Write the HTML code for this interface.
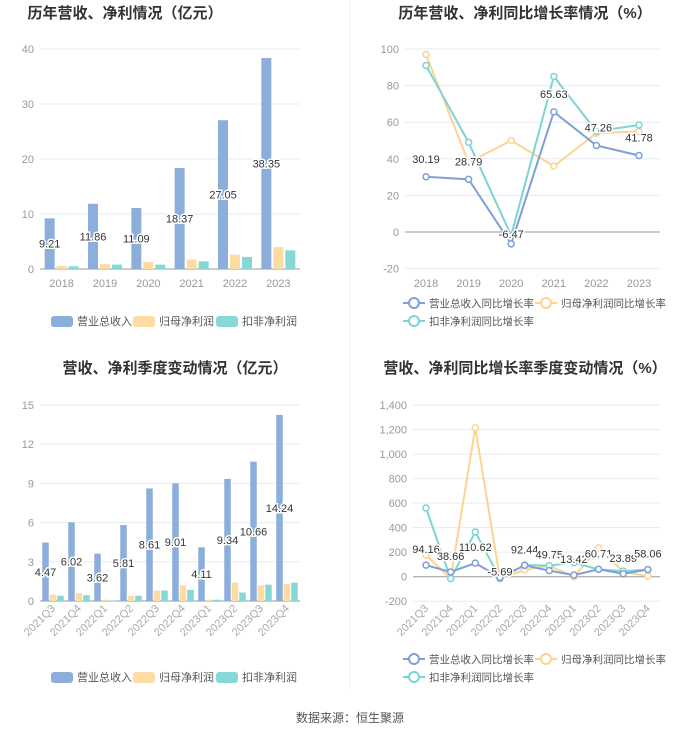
<!DOCTYPE html>
<html><head><meta charset="utf-8">
<style>
body{margin:0;background:#fff;width:700px;height:734px;overflow:hidden;font-family:"Liberation Sans","Noto Sans CJK SC",sans-serif;}
svg{display:block}
</style></head><body>
<svg id="s" width="700" height="734" xmlns="http://www.w3.org/2000/svg" font-family="Liberation Sans, Noto Sans CJK SC, sans-serif">
<line x1="350" y1="0" x2="350" y2="690" stroke="#f0f0f0"/>
<text x="125" y="18" text-anchor="middle" font-size="15" font-weight="bold" fill="#333">历年营收、净利情况（亿元）</text>
<text x="525" y="18" text-anchor="middle" font-size="15" font-weight="bold" fill="#333">历年营收、净利同比增长率情况（%）</text>
<text x="175" y="373" text-anchor="middle" font-size="15" font-weight="bold" fill="#333">营收、净利季度变动情况（亿元）</text>
<text x="525" y="373" text-anchor="middle" font-size="15" font-weight="bold" fill="#333">营收、净利同比增长率季度变动情况（%）</text>
<text x="350" y="722" text-anchor="middle" font-size="12" fill="#555">数据来源：恒生聚源</text>
</svg>
<script>
const years=['2018','2019','2020','2021','2022','2023'];
const revY=[9.21,11.86,11.09,18.37,27.05,38.35];
const npY=[0.6,0.9,1.3,1.7,2.6,4.0];
const dnpY=[0.5,0.8,0.8,1.4,2.2,3.4];
const ticks1=[0,10,20,30,40];
const revG=[30.19,28.79,-6.47,65.63,47.26,41.78];
const npG=[97,38,50,36,54,55];
const dnpG=[91,49,-2,85,55,58.5];
const ticks2=[-20,0,20,40,60,80,100];
const quarters=['2021Q3','2021Q4','2022Q1','2022Q2','2022Q3','2022Q4','2023Q1','2023Q2','2023Q3','2023Q4'];
const revQ=[4.47,6.02,3.62,5.81,8.61,9.01,4.11,9.34,10.66,14.24];
const npQ=[0.5,0.6,0.1,0.4,0.8,1.2,0.1,1.4,1.2,1.3];
const dnpQ=[0.4,0.45,0.03,0.4,0.8,0.85,0.1,0.65,1.25,1.4];
const ticks3=[0,3,6,9,12,15];
const revQG=[94.16,38.66,110.62,-5.69,92.44,49.75,13.42,60.71,23.89,58.06];
const npQG=[175,-15,1215,-15,55,90,0,235,40,5];
const dnpQG=[560,-15,365,-15,95,90,115,60,45,58];
const ticks4=[-200,0,200,400,600,800,1000,1200,1400];

const NS='http://www.w3.org/2000/svg';
const svg=document.getElementById('s');
function el(t,a,txt){const e=document.createElementNS(NS,t);for(const k in a)e.setAttribute(k,a[k]);if(txt!==undefined)e.textContent=txt;svg.appendChild(e);return e;}
const C={b:'#8caedb',o:'#fddca4',t:'#86d7d7',bl:'#7f9fd8',ol:'#fdd391',tl:'#7dd4d4'};

function axes(x0,x1,yf,ticks,pre,fmt){
  ticks.forEach(v=>{const y=yf(v);
    const l=el('line',{x1:x0,x2:x1,y1:y,y2:y,stroke:v===0?'#999':'#e6ebf5'});
    
    const t=el('text',{x:x0-6,y:y+4,'text-anchor':'end','font-size':11,fill:'#999'},fmt?fmt(v):v);
    });
}
function xlabels(cats,xf,y,rot,pre){
  cats.forEach((c,i)=>{const x=xf(i);
    const a=rot?{x:x+3,y:y,'text-anchor':'end','font-size':11,fill:'#aaa',transform:`rotate(-45 ${x+3} ${y})`}:{x:x,y:y,'text-anchor':'middle','font-size':11,fill:'#999'};
    const t=el('text',a,c);});
}
function vlabel(x,y,s,pre){
  const t=el('text',{x:x,y:y,'text-anchor':'middle','font-size':11,fill:'#333',stroke:'#fff','stroke-width':3,'paint-order':'stroke'},s);
  
}
function bars(cats,series,cols,x0,x1,yf,bw,gap,pre,labels,labFn){
  const band=(x1-x0)/cats.length;
  cats.forEach((c,i)=>{const cx=x0+band*(i+0.5);
    const tot=series.length*bw+(series.length-1)*gap;
    series.forEach((s,j)=>{const x=cx-tot/2+j*(bw+gap);const y=yf(s[i]);
      const r=el('rect',{x:x,y:y,width:bw,height:yf(0)-y,fill:cols[j]});
      });
    const bx=cx-tot/2+bw/2;
    vlabel(bx,labFn(series[0][i]),labels[i].toFixed(2),pre);
  });
  return i=>x0+band*(i+0.5);
}
function line(vals,xf,yf,col,pre){
  const pts=vals.map((v,i)=>xf(i)+','+yf(v)).join(' ');
  const p=el('polyline',{points:pts,fill:'none',stroke:col,'stroke-width':2});
  
  vals.forEach((v,i)=>{const c=el('circle',{cx:xf(i),cy:yf(v),r:3,fill:'#fff',stroke:col,'stroke-width':1.5});
    });
}
function legendBar(x,y,col,label,pre){
  const r=el('rect',{x:x,y:y-5,width:22,height:11,rx:3,fill:col});
  
  const t=el('text',{x:x+26,y:y+4,'font-size':11,fill:'#555'},label);
  
}
function legendLine(x,y,col,label,pre){
  const l=el('line',{x1:x,x2:x+22,y1:y,y2:y,stroke:col,'stroke-width':2});
  
  const c=el('circle',{cx:x+11,cy:y,r:5,fill:'#fff',stroke:col,'stroke-width':2});
  
  const t=el('text',{x:x+26,y:y+4,'font-size':10.5,fill:'#555'},label);
  
}

// chart1
{const y1=v=>269-v*5.5;
axes(40,300,y1,ticks1,'c1');
const xf=bars(years,[revY,npY,dnpY],[C.b,C.o,C.t],40,300,y1,10,2,'c1',revY,v=>y1(v/2)+4);
xlabels(years,xf,287,false,'c1');
legendBar(51,321,C.b,'营业总收入','c1');legendBar(133,321,C.o,'归母净利润','c1');legendBar(216,321,C.t,'扣非净利润','c1');}

// chart2
{const y2=v=>232-v*1.83;
axes(405,660,y2,ticks2,'c2');
const xf=i=>426+i*42.6;
xlabels(years,xf,287,false,'c2');
line(npG,xf,y2,C.ol,'c2-np');line(dnpG,xf,y2,C.tl,'c2-dnp');line(revG,xf,y2,C.bl,'c2-rev');
revG.forEach((v,i)=>vlabel(xf(i)+(i==4?2:0),i==2?y2(v)-6:y2(v)-14,v.toFixed(2),'c2'));
legendLine(403,303,C.bl,'营业总收入同比增长率','c2');legendLine(535,303,C.ol,'归母净利润同比增长率','c2');legendLine(403,321,C.tl,'扣非净利润同比增长率','c2');}

// chart3
{const y3=v=>601-v*13.07;
axes(40,300,y3,ticks3,'c3');
const xf=bars(quarters,[revQ,npQ,dnpQ],[C.b,C.o,C.t],40,300,y3,6.5,1,'c3',revQ,v=>y3(v/2)+4);
xlabels(quarters,xf,609,true,'c3');
legendBar(51,677,C.b,'营业总收入','c3');legendBar(133,677,C.o,'归母净利润','c3');legendBar(216,677,C.t,'扣非净利润','c3');}

// chart4
{const y4=v=>576.7-v*0.1226;
axes(413,660,y4,ticks4,'c4',v=>v.toLocaleString('en-US'));
const xf=i=>426+i*24.65;
xlabels(quarters,xf,609,true,'c4');
line(npQG,xf,y4,C.ol,'c4-np');line(dnpQG,xf,y4,C.tl,'c4-dnp');line(revQG,xf,y4,C.bl,'c4-rev');
revQG.forEach((v,i)=>vlabel(xf(i),i==3?y4(v)-2:y4(v)-12,v.toFixed(2),'c4'));
legendLine(403,659,C.bl,'营业总收入同比增长率','c4');legendLine(535,659,C.ol,'归母净利润同比增长率','c4');legendLine(403,677,C.tl,'扣非净利润同比增长率','c4');}
</script>
</body></html>
